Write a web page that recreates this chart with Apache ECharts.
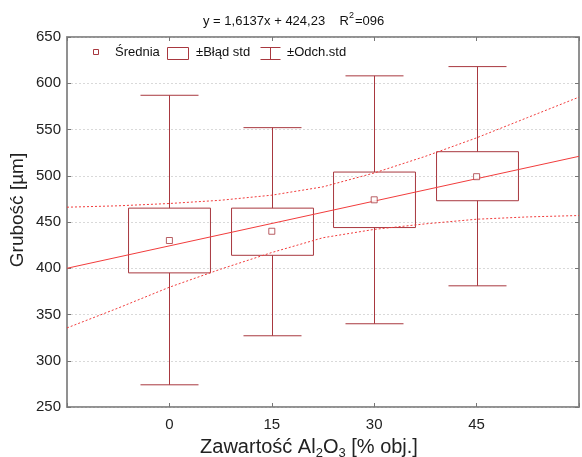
<!DOCTYPE html>
<html>
<head>
<meta charset="utf-8">
<script src="https://cdn.jsdelivr.net/npm/echarts@6/dist/echarts.min.js"></script>
<style>
  html, body { margin: 0; padding: 0; background: #fff; }
  #chart { width: 582px; height: 457px; }
</style>
</head>
<body>
<div id="chart"></div>
<script>
// Al2O3 content groups (x positions)
const groups = [0, 15, 30, 45];
const means = [430, 440, 474, 499];
const stdErrLow = [395, 414, 444, 473];
const stdErrHigh = [465, 465, 504, 526];
const stdDevLow = [274, 327, 340, 381];
const stdDevHigh = [587, 552, 608, 618];

// fitted line y = 1.6137x + 424.23, read at the plot edges
const fitX = [-15, 60];
const fitY = [400, 521];

// confidence band
const bandX = [-15, -7.5, 0, 7.5, 15, 22.5, 30, 37.5, 45, 52.5, 60];
const bandUpper = [466, 467.5, 470, 473.5, 479, 488, 503, 521, 541, 563, 585];
const bandLower = [335.5, 357, 379.5, 399, 417, 433, 442, 448, 453, 455.5, 457];

const xTicks = [0, 15, 30, 45];

const BOX = "#a8383f";
const FIT = "#f23c3c";
const FONT = "Liberation Sans";

const chart = echarts.init(document.getElementById("chart"));

const boxData = groups.map((g, i) => [g, stdDevLow[i], stdErrLow[i], stdErrHigh[i], stdDevHigh[i]]);

function renderBox(params, api) {
  const x = api.value(0);
  const wl = api.coord([x, api.value(1)]);
  const bl = api.coord([x, api.value(2)]);
  const bh = api.coord([x, api.value(3)]);
  const wh = api.coord([x, api.value(4)]);
  const bw = api.size([12, 0])[0];
  const cw = api.size([8.5, 0])[0];
  const cx = Math.round(wl[0]) + 0.5;
  const st = { stroke: BOX, lineWidth: 1, fill: null };
  return {
    type: "group",
    children: [
      { type: "line", shape: { x1: cx, y1: wh[1], x2: cx, y2: bh[1] }, style: st },
      { type: "line", shape: { x1: cx, y1: bl[1], x2: cx, y2: wl[1] }, style: st },
      { type: "line", shape: { x1: cx - cw / 2, y1: wh[1], x2: cx + cw / 2, y2: wh[1] }, style: st },
      { type: "line", shape: { x1: cx - cw / 2, y1: wl[1], x2: cx + cw / 2, y2: wl[1] }, style: st },
      { type: "rect", shape: { x: cx - bw / 2, y: bh[1], width: bw, height: bl[1] - bh[1] }, style: st }
    ]
  };
}

const axisLine = { show: true, onZero: false, lineStyle: { color: "#8a8a8a", width: 1.5 } };
const tick = { show: true, inside: true, length: 4, lineStyle: { color: "#777" } };

const option = {
  animation: false,
  backgroundColor: "#fff",
  textStyle: { fontFamily: FONT },
  grid: { left: 67, top: 37, right: -2, bottom: 50, show: true, borderColor: "#8a8a8a", borderWidth: 1.5 },
  xAxis: [
    {
      type: "value", min: -15, max: 60, interval: 15, position: "bottom",
      axisLine, axisTick: tick, splitLine: { show: false },
      axisLabel: {
        color: "#222", fontSize: 15, margin: 10,
        formatter: v => (xTicks.includes(v) ? String(v) : "")
      }
    },
    {
      type: "value", min: -15, max: 60, interval: 15, position: "top",
      axisLine, axisTick: tick, splitLine: { show: false }, axisLabel: { show: false }
    }
  ],
  yAxis: [
    {
      type: "value", min: 250, max: 650, interval: 50,
      axisLine, axisTick: tick,
      axisLabel: { color: "#222", fontSize: 15, margin: 6 },
      splitLine: { show: true, lineStyle: { color: "#d9d9d9", type: [2, 2] } }
    },
    {
      type: "value", min: 250, max: 650, interval: 50, position: "right",
      axisLine, axisTick: tick, axisLabel: { show: false }, splitLine: { show: false }
    }
  ],
  series: [
    { type: "custom", renderItem: renderBox, data: boxData, z: 2 },
    {
      type: "line", data: fitX.map((x, i) => [x, fitY[i]]), symbol: "none",
      lineStyle: { color: FIT, width: 1 }, z: 3
    },
    {
      type: "line", data: bandX.map((x, i) => [x, bandUpper[i]]), symbol: "none",
      lineStyle: { color: FIT, width: 1, type: [2, 2] }, z: 3
    },
    {
      type: "line", data: bandX.map((x, i) => [x, bandLower[i]]), symbol: "none",
      lineStyle: { color: FIT, width: 1, type: [2, 2] }, z: 3
    },
    {
      type: "scatter", data: groups.map((g, i) => [g, means[i]]), symbol: "rect", symbolSize: 6,
      itemStyle: { color: "#fff", borderColor: BOX, borderWidth: 1 }, z: 4
    }
  ],
  graphic: [
    {
      type: "text", left: 203, top: 11,
      style: {
        text: "{n|y = 1,6137x + 424,23    R}{s|2}{n|=096}",
        rich: {
          n: { fontSize: 13, lineHeight: 17, verticalAlign: "bottom", fill: "#111", fontFamily: FONT },
          s: { fontSize: 9, lineHeight: 17, verticalAlign: "top", fill: "#111", fontFamily: FONT, padding: [0, 1, 0, 0] }
        }
      }
    },
    {
      type: "text", x: 18, y: 210, rotation: Math.PI / 2,
      style: { text: "Grubość [µm]", fontSize: 19, fill: "#222", align: "center", verticalAlign: "middle", fontFamily: FONT }
    },
    {
      type: "text", x: 309, y: 447,
      style: {
        text: "{n|Zawartość Al}{s|2}{n|O}{s|3}{n| [% obj.]}",
        align: "center", verticalAlign: "middle",
        rich: {
          n: { fontSize: 20, lineHeight: 26, verticalAlign: "middle", fill: "#222", fontFamily: FONT },
          s: { fontSize: 13, lineHeight: 13, verticalAlign: "bottom", fill: "#222", fontFamily: FONT }
        }
      }
    },
    // legend
    { type: "rect", shape: { x: 93.5, y: 49.5, width: 5, height: 5 }, style: { fill: "#fff", stroke: BOX, lineWidth: 1 } },
    { type: "text", x: 115, y: 52, style: { text: "Średnia", fontSize: 13, fill: "#111", verticalAlign: "middle", fontFamily: FONT } },
    { type: "rect", shape: { x: 167.5, y: 47.5, width: 21, height: 12 }, style: { fill: null, stroke: BOX, lineWidth: 1 } },
    { type: "text", x: 196, y: 52, style: { text: "±Błąd std", fontSize: 13, fill: "#111", verticalAlign: "middle", fontFamily: FONT } },
    { type: "line", shape: { x1: 260.5, y1: 47.5, x2: 280.5, y2: 47.5 }, style: { stroke: BOX, lineWidth: 1 } },
    { type: "line", shape: { x1: 270.5, y1: 47.5, x2: 270.5, y2: 59.5 }, style: { stroke: BOX, lineWidth: 1 } },
    { type: "line", shape: { x1: 260.5, y1: 59.5, x2: 280.5, y2: 59.5 }, style: { stroke: BOX, lineWidth: 1 } },
    { type: "text", x: 287, y: 52, style: { text: "±Odch.std", fontSize: 13, fill: "#111", verticalAlign: "middle", fontFamily: FONT } }
  ]
};

chart.setOption(option);
</script>
</body>
</html>
